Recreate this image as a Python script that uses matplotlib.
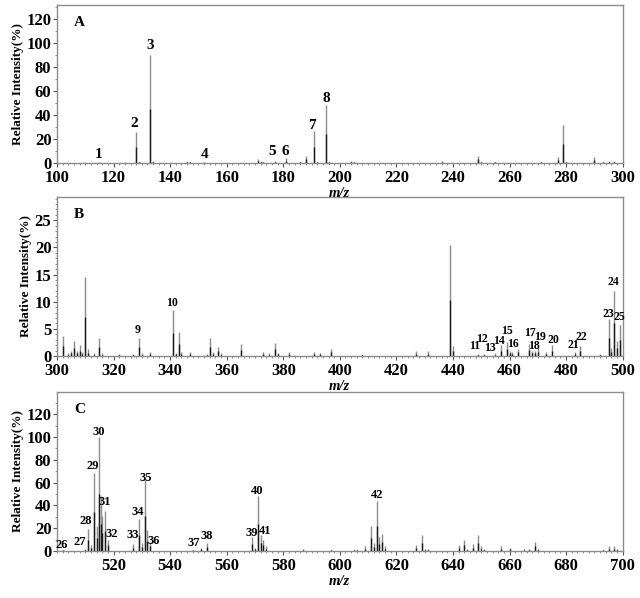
import matplotlib
matplotlib.use('Agg')
import numpy as np
from matplotlib import pyplot as plt
from matplotlib.ticker import MultipleLocator

plt.rcParams['font.family'] = ['Liberation Serif', 'DejaVu Serif']
plt.rcParams['font.weight'] = 'bold'

# panel A : m/z 100-300
mz_a = [110, 115, 124, 128, 129, 133, 134, 146, 147, 152, 171, 172, 173, 177, 181,
        186, 188, 191, 192, 195, 196, 204, 205, 236, 249, 250, 255, 271, 277, 279,
        280, 290, 293, 295, 297]
int_a = [0.5, 0.6, 0.5, 26, 1, 90, 2, 1, 1, 0.6, 3, 2, 1, 1.5, 4,
         1, 6, 27, 1, 48, 1, 2, 1, 2, 6, 1, 1, 1, 5, 32,
         1, 5, 1, 1.5, 1.5]
lab_a = ['1', '2', '3', '4', '5', '6', '7', '8']
lab_a_x = [114.8, 127.2, 133.1, 152.2, 176.2, 180.6, 190.2, 195.1]
lab_a_y = [6.7, 32.5, 97.5, 7.5, 9.4, 9.4, 31.4, 53.3]

# panel B : m/z 300-500
mz_b = [302, 304, 305, 306, 307, 308, 309, 310, 311, 313, 315, 316, 322, 327, 329,
        330, 333, 341, 342, 343, 344, 347, 353, 354, 355, 357, 358, 365, 373, 375,
        377, 378, 382, 391, 393, 397, 408, 427, 431, 439, 440, 449, 451, 455, 457,
        459, 460, 461, 463, 467, 468, 469, 470, 473, 475, 483, 485, 492, 495, 496,
        497, 498, 499]
int_b = [3.7, 0.5, 1.0, 2.8, 1.0, 2.0, 0.7, 14.5, 1.2, 0.5, 3.4, 0.5, 0.3, 0.4, 3.3,
         0.5, 0.7, 8.5, 0.6, 4.5, 0.8, 0.7, 0.3, 3.4, 0.8, 1.7, 0.5, 2.3, 0.8, 0.5,
         2.4, 0.6, 0.8, 0.8, 0.6, 1.3, 0.3, 0.9, 0.9, 20.5, 1.8, 0.3, 0.3, 0.5, 2.0,
         2.5, 1.0, 0.8, 1.3, 2.3, 1.0, 1.0, 1.5, 0.8, 2.0, 0.8, 1.8, 0.4, 6.8, 1.5,
         12.0, 2.8, 5.8]
lab_b = ['9', '10', '11', '12', '13', '14', '15', '16', '17', '18', '19', '20',
         '21', '22', '23', '24', '25']
lab_b_x = [328.5, 340.5, 447.7, 450.4, 453.2, 456.3, 459.1, 461.2, 467.1, 468.5,
           470.9, 475.4, 482.7, 485.4, 494.8, 496.6, 498.7]
lab_b_y = [4.8, 9.8, 1.9, 3.1, 1.4, 2.75, 4.6, 2.3, 4.3, 1.9,
           3.5, 2.9, 2.0, 3.5, 7.8, 13.7, 7.2]

# panel C : m/z 500-700
mz_c = [502, 510, 511, 512, 513, 514, 515, 515.5, 516, 517, 518, 527, 529, 530, 531,
        532, 533, 548, 551, 553, 569, 570, 571, 572, 573, 574, 587, 597, 605, 606,
        609, 611, 612, 613, 614, 615, 616, 627, 629, 630, 631, 642, 644, 645, 647,
        649, 650, 651, 657, 660, 665, 667, 669, 670, 693, 695, 697, 698]
int_c = [1, 2, 19, 5, 68, 22, 100, 48, 31, 35, 10, 6, 28, 7, 62,
         18, 8, 1, 3, 7, 12, 3, 48, 14, 10, 4, 2, 1, 1, 1,
         4, 22, 7, 44, 12.6, 15, 4, 5, 14, 2, 2, 5, 9.7, 2, 6,
         14, 4, 2, 4, 3, 2, 2, 8, 2, 1, 4, 4, 2]
lab_c = ['26', '27', '28', '29', '30', '31', '32', '33', '34', '35', '36', '37',
         '38', '39', '40', '41', '42']
lab_c_x = [501.6, 508.2, 510.3, 512.5, 514.9, 516.9, 519.3, 526.7, 528.5, 531.3,
           534.1, 548.4, 552.9, 569.0, 570.9, 573.7, 613.1]
lab_c_y = [5.3, 8, 26, 74.4, 104.6, 43, 15, 13.8, 34.3, 64.3,
           9.1, 7.1, 12.8, 16, 52.4, 17.3, 49.4]

fig = plt.figure(figsize=(6.4, 5.98), dpi=100)

panels = [
    ('A', mz_a, int_a, lab_a, lab_a_x, lab_a_y, (100, 300), 131.5, 20, 10, 11,
     [0.089, 0.7274, 0.884, 0.2642], range(100, 301, 20)),
    ('B', mz_b, int_b, lab_b, lab_b_x, lab_b_y, (300, 500), 29.3, 5, 1, 8.5,
     [0.089, 0.4047, 0.884, 0.2659], range(300, 501, 20)),
    ('C', mz_c, int_c, lab_c, lab_c_x, lab_c_y, (500, 700), 139.5, 20, 10, 9,
     [0.089, 0.0786, 0.884, 0.2659], range(520, 701, 20)),
]

for name, mz, inten, labs, lx, ly, xlim, ytop, ymaj, ymin, lfs, pos, xt in panels:
    ax = fig.add_axes(pos)
    mz = np.array(mz, dtype=float)
    inten = np.array(inten, dtype=float)
    ax.vlines(mz, 0, inten, color='#8c8c8c', lw=1.0)
    ax.vlines(mz, 0, inten / 2, color='#1a1a1a', lw=1.0)
    for t, x, y in zip(labs, lx, ly):
        ax.text(x, y, t, ha='center', va='center', fontsize=lfs, fontweight='bold')
    ax.text(0.03, 0.89, name, transform=ax.transAxes, fontsize=11,
            fontweight='bold', ha='left', va='center')
    ax.set_xlim(*xlim)
    ax.set_ylim(0, ytop)
    ax.set_xticks(list(xt))
    ax.xaxis.set_minor_locator(MultipleLocator(2))
    ax.yaxis.set_major_locator(MultipleLocator(ymaj))
    ax.yaxis.set_minor_locator(MultipleLocator(ymin))
    for s in ax.spines.values():
        s.set_color('#8c8c8c')
        s.set_linewidth(1.0)
    ax.tick_params(which='major', direction='out', length=3, color='#555555',
                   labelsize=12, pad=1)
    ax.tick_params(axis='x', which='major', pad=2)
    ax.tick_params(which='minor', direction='out', length=1.5, color='#777777')
    for lbl in ax.get_xticklabels() + ax.get_yticklabels():
        lbl.set_fontweight('bold')
    ax.set_ylabel('Relative Intensity(%)', fontsize=9.5, fontweight='bold',
                  labelpad=2)
    ax.set_xlabel('m/z', fontsize=10.5, fontweight='bold', style='italic',
                  labelpad=1)

fig.savefig('out.png', dpi=100)
